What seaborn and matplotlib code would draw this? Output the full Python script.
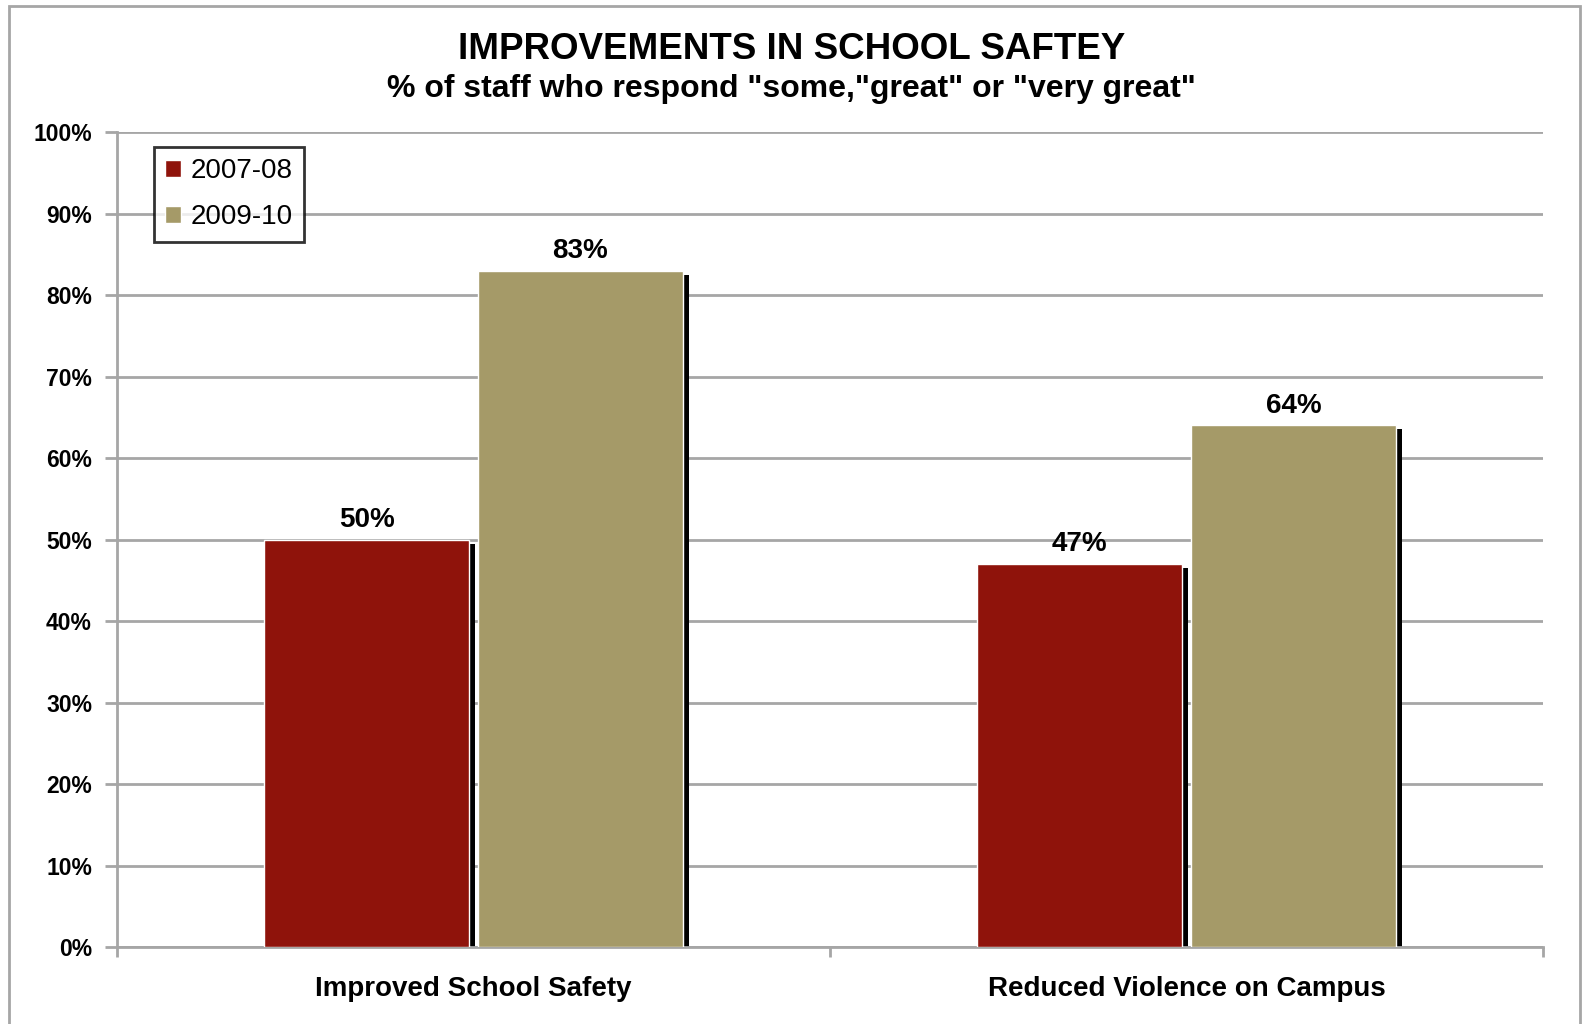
import pandas as pd
import seaborn as sns
import matplotlib.pyplot as plt
import matplotlib.transforms as mtransforms
from matplotlib.patches import Rectangle
from matplotlib.ticker import PercentFormatter

# Data
categories = ['Improved School Safety', 'Reduced Violence on Campus']
years = ['2007-08', '2009-10']
values_0708 = [50, 47]
values_0910 = [83, 64]
colors = ['#8f130b', '#a59a68']

data = pd.DataFrame({
    'category': categories * 2,
    'year': [years[0]] * 2 + [years[1]] * 2,
    'value': values_0708 + values_0910,
})

sns.set_theme(style='white')
plt.rcParams['font.family'] = ['Liberation Sans', 'DejaVu Sans']
plt.rcParams['text.color'] = 'black'
plt.rcParams['ytick.color'] = 'black'
plt.rcParams['xtick.color'] = 'black'

fig = plt.figure(figsize=(15.83, 10.24), dpi=100)
ax = fig.add_axes([0.0739, 0.0752, 0.9008, 0.7958])

sns.barplot(data=data, x='category', y='value', hue='year', palette=colors,
            width=0.6, gap=0.04, saturation=1, ax=ax, zorder=3, legend=True)

# drop shadows behind the bars
shadow = mtransforms.ScaledTranslation(6 / 100, -4 / 100, fig.dpi_scale_trans)
for p in list(ax.patches):
    ax.add_patch(Rectangle(p.get_xy(), p.get_width(), p.get_height(),
                           facecolor='black', edgecolor='none', zorder=2,
                           transform=ax.transData + shadow))

# value labels
for cont in ax.containers:
    ax.bar_label(cont, labels=[f'{v:.0f}%' for v in cont.datavalues],
                 padding=5, fontsize=20, fontweight='bold', color='black')

ax.set_ylim(0, 100)
ax.set_xlim(-0.5, 1.5)
ax.set_yticks(range(0, 101, 10))
ax.yaxis.set_major_formatter(PercentFormatter(decimals=0))
ax.grid(axis='y', color='#a6a6a6', linewidth=2, zorder=0)
ax.set_axisbelow(True)
ax.set_xlabel('')
ax.set_ylabel('')

for s in ['top', 'right']:
    ax.spines[s].set_visible(False)
for s in ['left', 'bottom']:
    ax.spines[s].set_color('#a6a6a6')
    ax.spines[s].set_linewidth(2)

ax.tick_params(axis='y', left=True, length=9, width=2, color='#a6a6a6',
               labelsize=16.5, labelcolor='black', pad=9)
for t in ax.get_yticklabels():
    t.set_fontweight('bold')

# category labels between boundary ticks
ax.set_xticks([-0.5, 0.5, 1.5])
ax.set_xticklabels([])
ax.tick_params(axis='x', bottom=True, length=7, width=2, color='#a6a6a6')
for i, cat in enumerate(categories):
    ax.text(i, -3.6, cat, ha='center', va='top', fontsize=20,
            fontweight='bold', color='black')

leg = ax.legend(loc='upper left', bbox_to_anchor=(0.016, 0.999), fontsize=20,
                frameon=True, fancybox=False, edgecolor='black',
                handlelength=0.55, handleheight=0.55, handletextpad=0.35,
                labelspacing=0.72, borderpad=0.42, title=None)
leg.get_frame().set_linewidth(2)
for t in leg.get_texts():
    t.set_color('black')

fig.text(0.5, 0.952, 'IMPROVEMENTS IN SCHOOL SAFTEY', ha='center', va='center',
         fontsize=26.5, fontweight='bold', color='black')
fig.text(0.5, 0.913, '% of staff who respond "some,"great" or "very great"',
         ha='center', va='center', fontsize=23, fontweight='bold', color='black')

# outer chart border
fig.patches.append(Rectangle((0.006, -0.02), 0.992, 1.014, transform=fig.transFigure,
                             fill=False, edgecolor='#a6a6a6', linewidth=2))

fig.savefig('out.png', dpi=100)
